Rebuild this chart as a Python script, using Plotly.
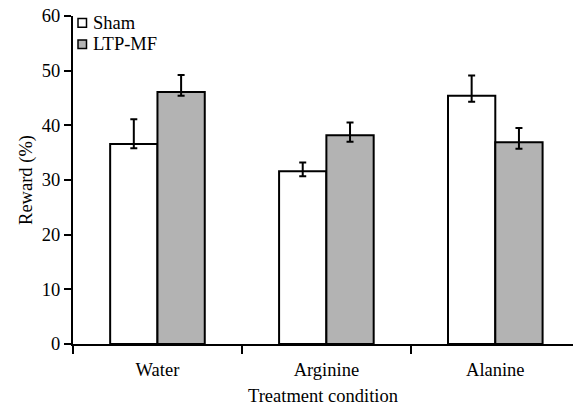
import plotly.graph_objects as go

categories = ["Water", "Arginine", "Alanine"]
sham = [36.6, 31.6, 45.4]
sham_err_plus = [4.5, 1.6, 3.7]
sham_err_minus = [0.8, 0.9, 1.1]
ltp = [46.1, 38.2, 36.9]
ltp_err_plus = [3.1, 2.3, 2.6]
ltp_err_minus = [0.7, 1.2, 1.2]
series_names = ["Sham", "LTP-MF"]
colors = ["#ffffff", "#b3b3b3"]

FONT = "Liberation Serif, Times New Roman, serif"
FS = 18.5

fig = go.Figure()
for name, vals, ep, em, col in [
    (series_names[0], sham, sham_err_plus, sham_err_minus, colors[0]),
    (series_names[1], ltp, ltp_err_plus, ltp_err_minus, colors[1]),
]:
    fig.add_trace(go.Bar(
        x=categories, y=vals, name=name,
        marker=dict(color=col, line=dict(color="black", width=2)),
        error_y=dict(type="data", symmetric=False, array=ep, arrayminus=em,
                     color="black", thickness=2, width=3.5),
        showlegend=False,
    ))

# manual legend
leg_y = [0.979, 0.914]
for i, (name, col) in enumerate(zip(series_names, colors)):
    fig.add_shape(type="rect", xref="paper", yref="paper",
                  x0=0.010, x1=0.027, y0=leg_y[i] - 0.013, y1=leg_y[i] + 0.013,
                  fillcolor=col, line=dict(color="black", width=1.5))
    fig.add_annotation(text=name, xref="paper", yref="paper", x=0.036, y=leg_y[i],
                       xanchor="left", yanchor="middle", showarrow=False,
                       font=dict(family=FONT, size=FS, color="black"))

fig.update_layout(
    width=573, height=406,
    margin=dict(l=73, r=0, t=16, b=62),
    paper_bgcolor="white", plot_bgcolor="white",
    barmode="group", bargap=0.44, bargroupgap=0,
    font=dict(family=FONT, size=FS, color="black"),
    xaxis=dict(
        type="category", range=[-0.5, 2.46], automargin=False,
        showline=True, linecolor="black", linewidth=2,
        ticks="outside", tickson="boundaries", ticklen=8, tickwidth=2, tickcolor="black",
        showgrid=False, zeroline=False, ticklabelstandoff=8,
        tickfont=dict(family=FONT, size=FS),
        title=dict(text="Treatment condition", font=dict(family=FONT, size=FS), standoff=12),
    ),
    yaxis=dict(
        range=[0, 60], tickvals=[0, 10, 20, 30, 40, 50, 60], automargin=False,
        showline=True, linecolor="black", linewidth=2,
        ticks="outside", ticklen=7, tickwidth=1.5, tickcolor="black",
        showgrid=False, zeroline=False,
        tickfont=dict(family=FONT, size=FS),
        title=dict(text="Reward (%)", font=dict(family=FONT, size=FS), standoff=4),
    ),
)

fig.write_html("out.html", config={"displayModeBar": False},
               post_script="document.body.style.margin='0';")
